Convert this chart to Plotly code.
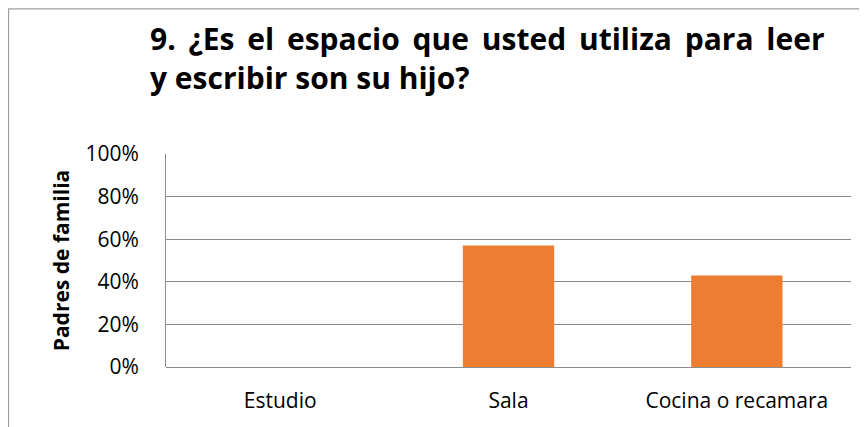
import plotly.graph_objects as go

categories = ["Estudio", "Sala", "Cocina o recamara"]
values = [0.0, 0.57, 0.43]
y_ticks = [0, 0.2, 0.4, 0.6, 0.8, 1.0]
y_tick_labels = ["0%", "20%", "40%", "60%", "80%", "100%"]
title_lines = ["9. ¿Es el espacio que usted utiliza para leer", "y escribir son su hijo?"]

FONT = "'Open Sans', sans-serif"
GRID = "#8c8c8c"

fig = go.Figure()

fig.add_trace(go.Bar(
    x=categories, y=values,
    marker=dict(color="#ed7d31", line=dict(width=0)),
    showlegend=False,
))

# chart frame (only top and left edges are visible in the crop)
fig.add_shape(
    type="path", xref="paper", yref="paper",
    path="M -0.2299,-2 L -0.2299,1.681 L 2,1.681",
    line=dict(color="#a0a0a0", width=1.3),
)

# two-line bold title; first line is justified like the original
line1 = title_lines[0].replace(" ", " &#8201;")
fig.add_annotation(
    text=f"<b>{line1}<br>{title_lines[1]}</b>", xref="paper", yref="paper",
    x=-0.0263, y=1.45, xanchor="left", yanchor="middle", align="left",
    showarrow=False, font=dict(family=FONT, size=30, color="#000000"),
)

fig.update_layout(
    width=859, height=419,
    margin=dict(l=158, r=16, t=146, b=60),
    paper_bgcolor="white", plot_bgcolor="white",
    font=dict(family=FONT, color="#000000", size=21),
    bargap=0.6,
    xaxis=dict(
        showgrid=False, showline=False, ticks="", automargin=False,
        tickfont=dict(size=21), ticklabelstandoff=19,
    ),
    yaxis=dict(
        range=[0, 1.0], tickvals=y_ticks, ticktext=y_tick_labels,
        showgrid=True, gridcolor=GRID, gridwidth=1,
        showline=True, linecolor=GRID, linewidth=1,
        zeroline=True, zerolinecolor=GRID, zerolinewidth=1,
        ticks="", ticklabelstandoff=22, automargin=False,
        title=dict(text="<b>Padres de familia</b>", font=dict(size=21), standoff=10),
    ),
)

fig.write_html("out.html")
